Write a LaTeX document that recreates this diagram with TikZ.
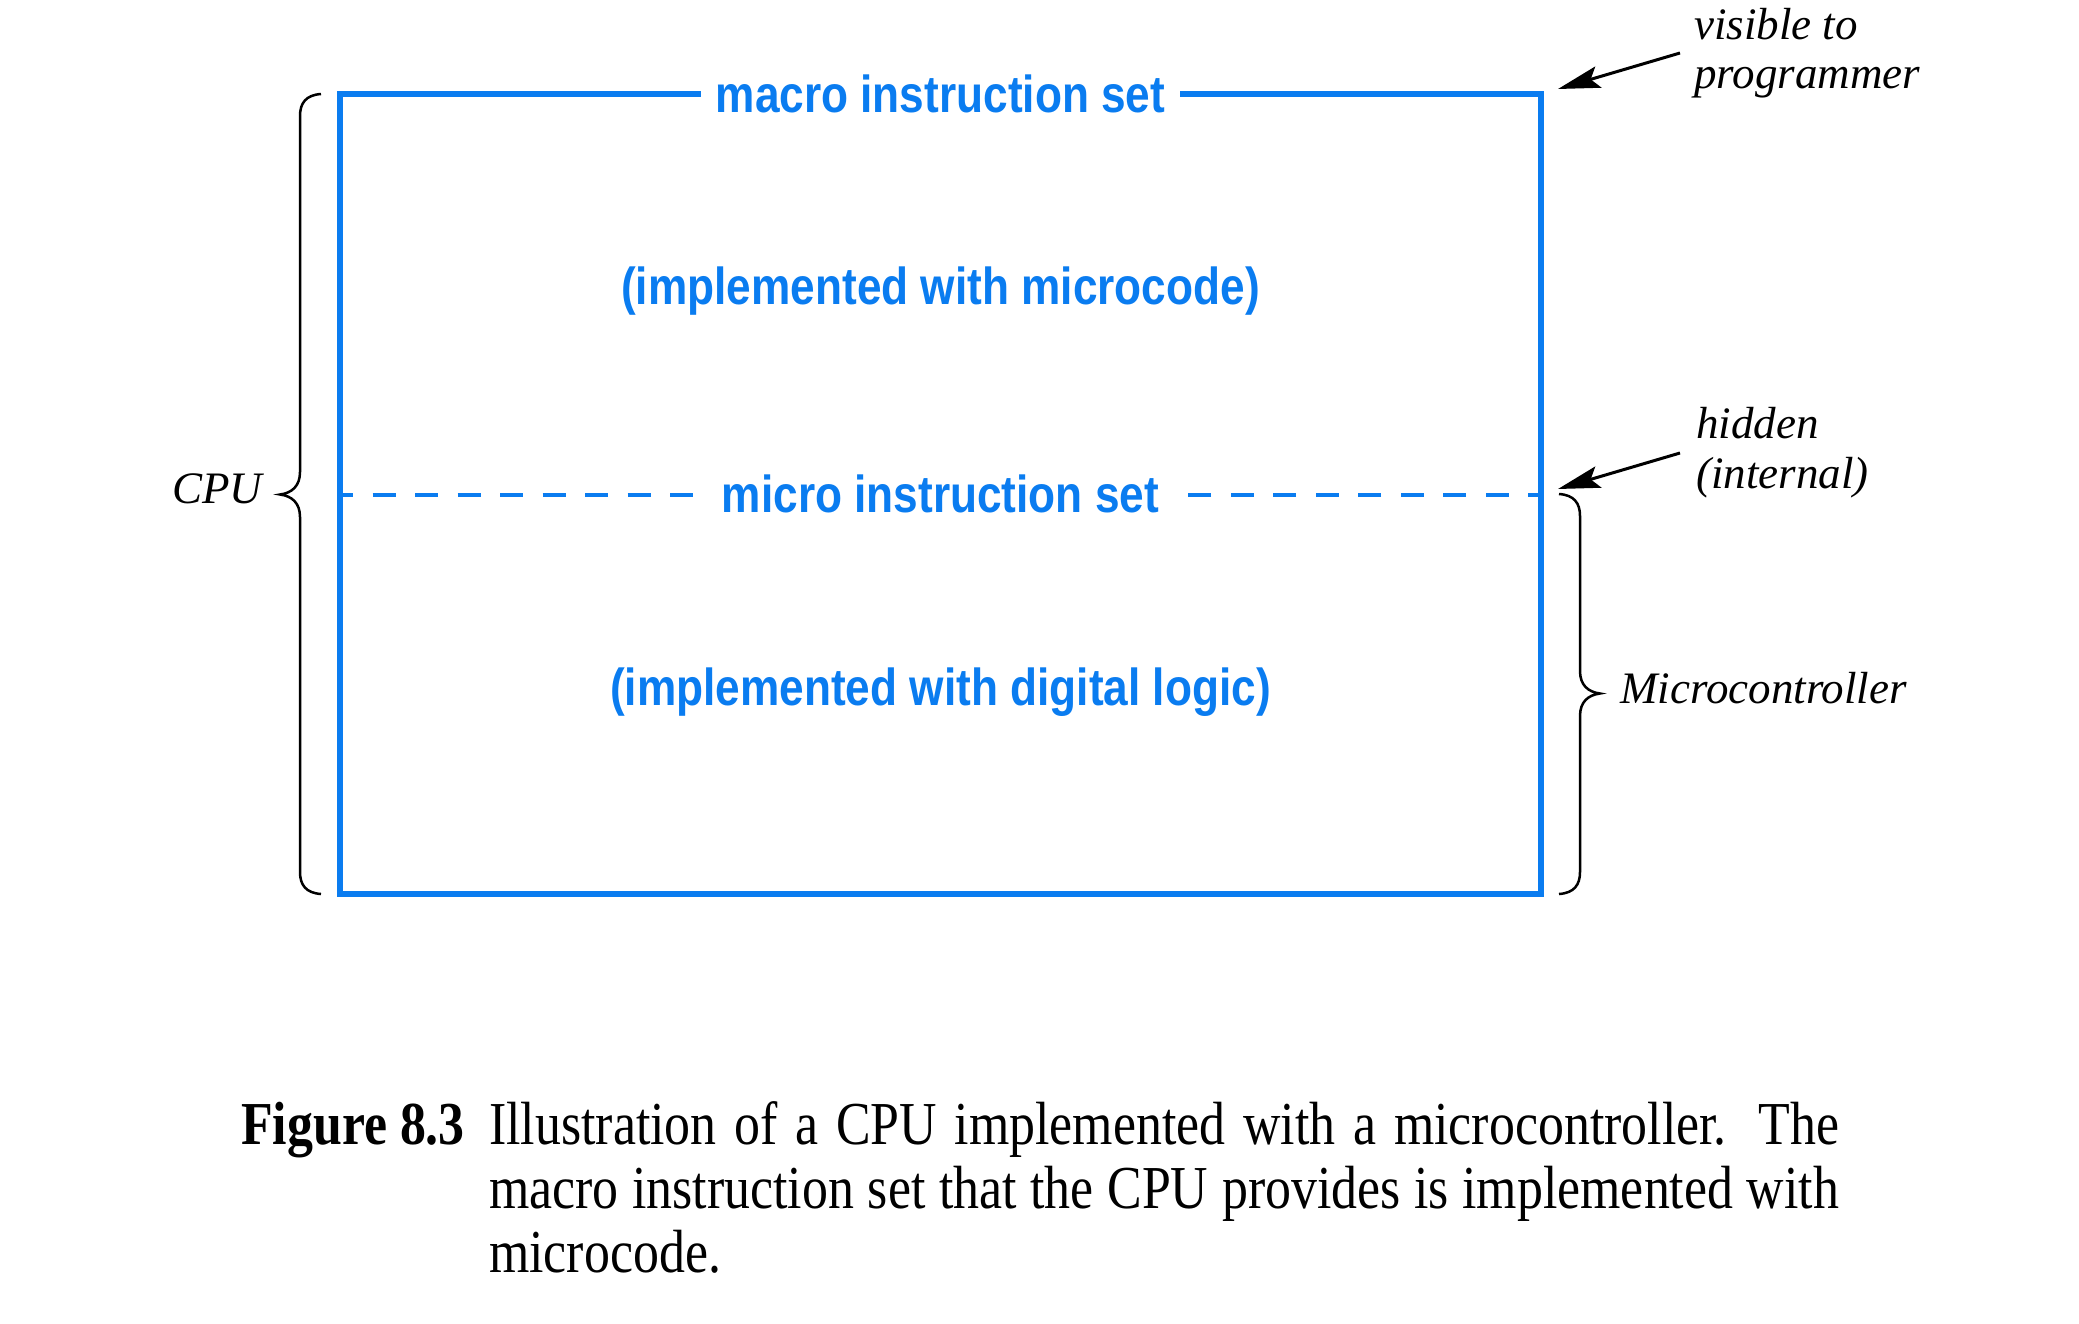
\documentclass[tikz,border=0pt]{standalone}
\usepackage{fontspec}
\setmainfont{Liberation Serif}
\newfontfamily\bluefont{Liberation Sans}
\usetikzlibrary{arrows.meta}
\definecolor{cpublue}{RGB}{10,124,240}
\begin{document}
\begin{tikzpicture}[x=1pt,y=-1pt,
  blueline/.style={draw=cpublue, line width=6pt},
  dashline/.style={draw=cpublue, line width=4pt, dash pattern=on 23pt off 19.5pt, dash phase=10pt},
  bluetext/.style={text=cpublue, inner ysep=0pt, anchor=base, font=\bluefont\bfseries\fontsize{52}{60}\selectfont},
  lab/.style={inner sep=0pt, anchor=base west, font=\itshape\fontsize{45}{48}\selectfont},
  brace/.style={draw=black, line width=2.5pt},
  pointer/.style={draw=black, line width=3pt, -{Stealth[length=42pt,width=22pt,inset=8pt]}},
  captext/.style={inner sep=0pt, anchor=base west, font=\fontsize{61}{64}\selectfont}
]
\useasboundingbox (0,0) rectangle (2079,1324);
% box corners
\coordinate (NW) at (340,94);
\coordinate (NE) at (1541,94);
\coordinate (SW) at (340,894);
\coordinate (SE) at (1541,894);
\coordinate (ML) at (340,494.5);
\coordinate (MR) at (1541,494.5);
% blue texts
\node[bluetext, inner xsep=15pt] (macro) at (940.5,113) {\scalebox{0.85}[1]{macro instruction set}};
\node[bluetext, inner xsep=21pt] (micro) at (940.5,512.5) {\scalebox{0.85}[1]{micro instruction set}};
\node[bluetext] (impl1) at (940.5,305) {\scalebox{0.85}[1]{(implemented with microcode)}};
\node[bluetext] (impl2) at (940.5,705) {\scalebox{0.85}[1]{(implemented with digital logic)}};
% box
\draw[blueline] (NW -| macro.west) -- (NW) -- (SW) -- (SE) -- (NE) -- (NE -| macro.east);
\draw[dashline] (ML) -- (ML -| micro.west);
\draw[dashline] (MR) -- (MR -| micro.east);
% labels
\node[lab] (vis1) at (1694,40) {visible to};
\node[lab] (vis2) at (1694,89) {programmer};
\node[lab] (hid1) at (1696,438) {hidden};
\node[lab] (hid2) at (1696,488) {(internal)};
\node[lab] (cpu) at (172,503) {CPU};
\node[lab] (mc) at (1620,703) {Microcontroller};
% arrows
\coordinate (a1s) at (1680,53);
\coordinate (a1e) at (1558,89);
\coordinate (a2s) at (1680,453);
\coordinate (a2e) at (1558,489);
\draw[pointer] (a1s) -- (a1e);
\draw[pointer] (a2s) -- (a2e);
% left brace (CPU)
\draw[brace] (321,94) .. controls (306,95) and (300,103) .. (300,116)
  -- (300,472) .. controls (300,486) and (292,493) .. (280,494.5)
  .. controls (292,496) and (300,503) .. (300,517)
  -- (300,872) .. controls (300,885) and (306,893) .. (321,894);
% right brace (Microcontroller)
\draw[brace] (1559,494) .. controls (1574,495) and (1580,503) .. (1580,516)
  -- (1580,671) .. controls (1580,685) and (1588,692) .. (1600,693.5)
  .. controls (1588,695) and (1580,702) .. (1580,716)
  -- (1580,872) .. controls (1580,885) and (1574,893) .. (1559,894);
% caption
\node[captext] (fig) at (241,1144) {\scalebox{0.85}[1]{\bfseries Figure 8.3}};
\node[captext] (cap) at (489,1144) {\scalebox{0.85}[1]{\parbox[t]{1588pt}{\fontsize{61}{64}\selectfont
Illustration of a CPU implemented with a microcontroller.  The\linebreak
macro instruction set that the CPU provides is implemented with\linebreak
microcode.\par}}};
\end{tikzpicture}
\end{document}
